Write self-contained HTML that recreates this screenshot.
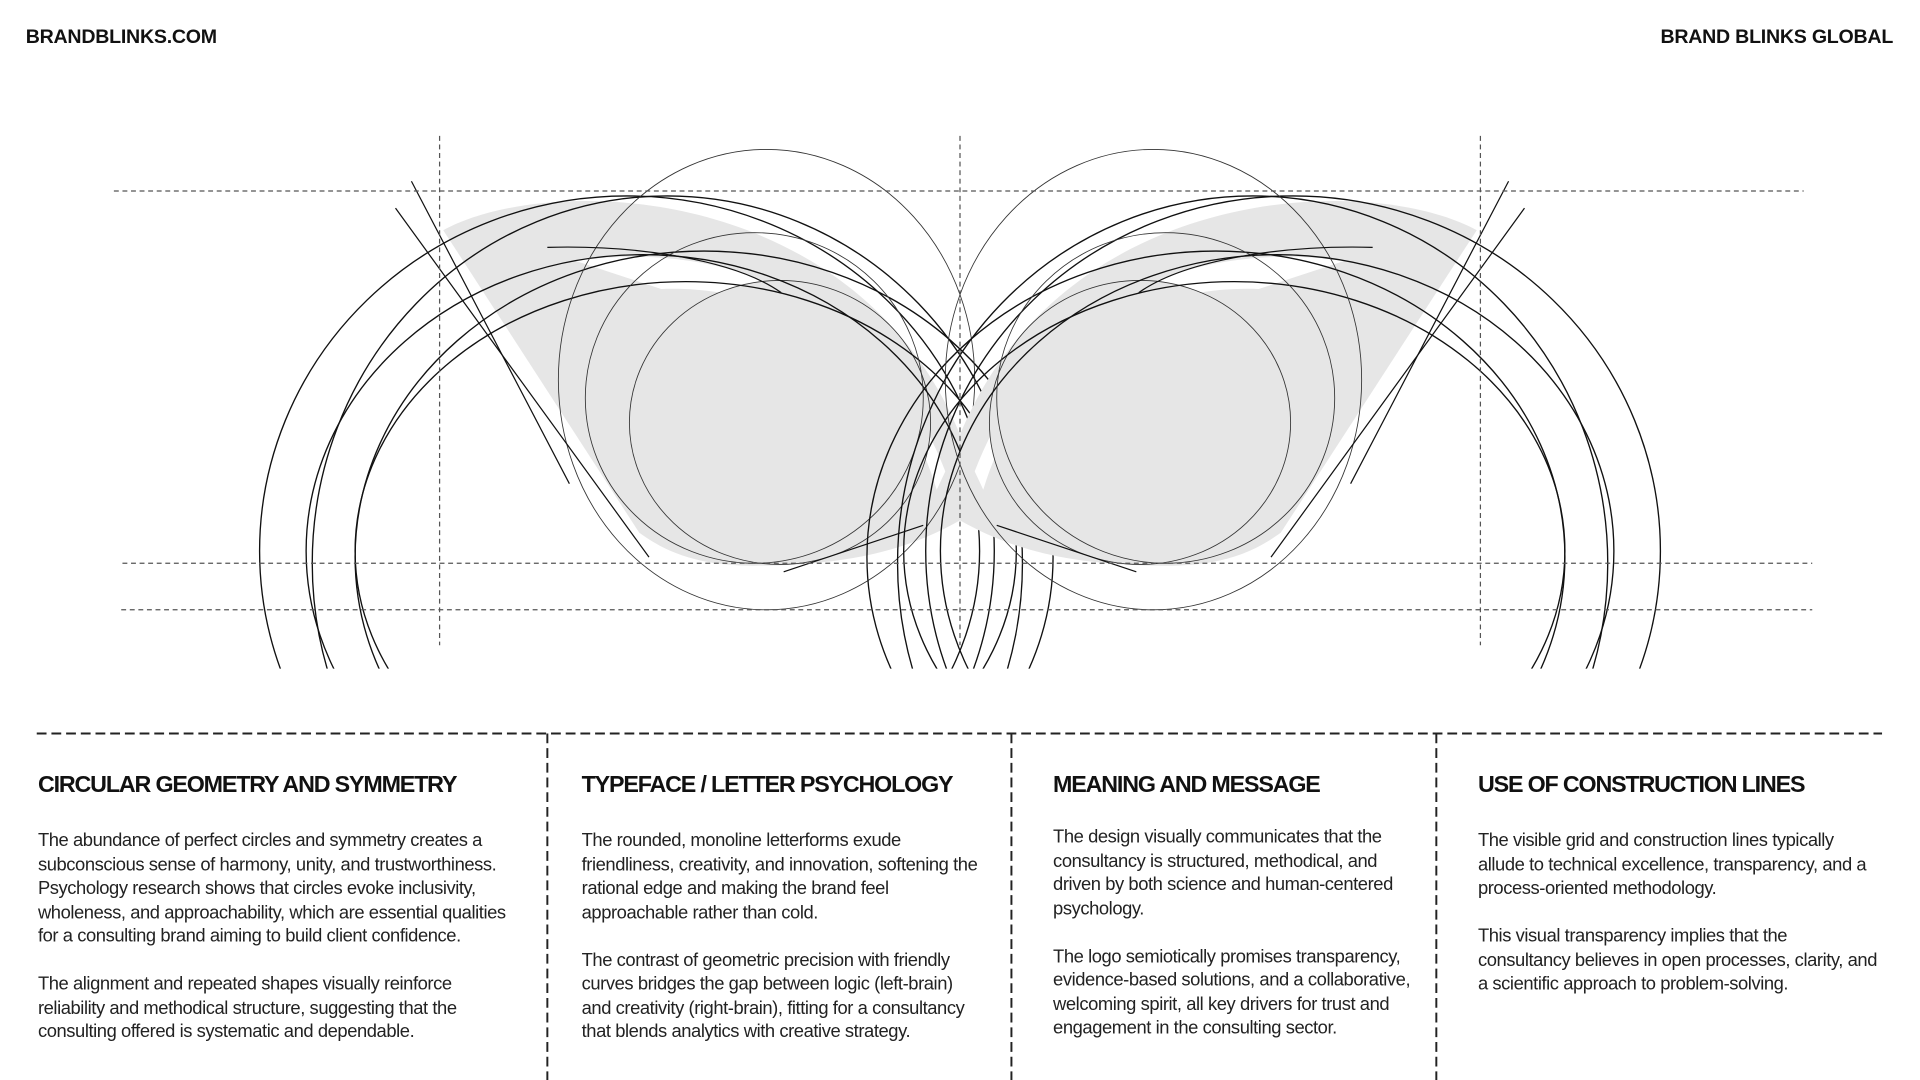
<!DOCTYPE html>
<html><head><meta charset="utf-8"><style>
html,body{margin:0;padding:0;background:#fff;width:1920px;height:1080px;overflow:hidden}
#w{position:absolute;left:0;top:0;width:1568px;height:882px;transform:scale(1.22449);transform-origin:0 0;font-family:"Liberation Sans",Arial,sans-serif;color:#111}
.hd{position:absolute;top:21px;font-size:16px;font-weight:bold;letter-spacing:-0.2px;line-height:20px}
.h{position:absolute;top:630px;font-size:19px;font-weight:bold;letter-spacing:-0.95px;line-height:24px;white-space:nowrap}
.b{position:absolute;font-size:15px;letter-spacing:-0.35px;line-height:19.5px;white-space:nowrap;color:#222}
.b p{margin:0 0 19.5px 0}
</style></head><body><div id="w">
<div class="hd" style="left:21px">BRANDBLINKS.COM</div>
<div class="hd" style="right:22px">BRAND BLINKS GLOBAL</div>

<svg width="1568" height="882" viewBox="0 0 1568 882" style="position:absolute;left:0;top:0">
<defs><clipPath id="cp"><rect x="0" y="0" width="1568" height="546"/></clipPath></defs>
<g id="half" clip-path="url(#cp)">
<path d="M362,188 C450,140 700,150 784,355 L784,425 C740,450 690,462 615,462 C565,462 540,448 522,435 L362,188 Z" fill="#e6e6e6"/>
<path d="M470,213 C600,195 720,250 772,385 L765,400 C735,300 650,232 540,236 Z" fill="#fff"/>
<ellipse cx="637" cy="345" rx="123" ry="116" fill="#e6e6e6" stroke="#333" stroke-width="0.7"/>
<g fill="none" stroke="#111" stroke-width="1.1">
<ellipse cx="512" cy="450" rx="300" ry="290"/>
<ellipse cx="545" cy="460" rx="290" ry="300"/>
<ellipse cx="525" cy="450" rx="275" ry="242"/>
<ellipse cx="560" cy="450" rx="270" ry="220"/>
<ellipse cx="575" cy="455" rx="285" ry="250"/>
</g>
<g fill="none" stroke="#333" stroke-width="0.7">
<ellipse cx="626" cy="310" rx="170" ry="188"/>
<ellipse cx="616" cy="325" rx="138" ry="135"/>
</g>
<g stroke="#111" stroke-width="1" fill="none">
<line x1="336" y1="148" x2="465" y2="395"/>
<line x1="323" y1="170" x2="530" y2="455"/>
<path d="M447,202 C520,200 600,212 638,239"/>
<line x1="640" y1="467" x2="754" y2="429"/>
</g>
</g>
<use href="#half" transform="translate(1568,0) scale(-1,1)"/>
<g stroke="#555" stroke-width="1" stroke-dasharray="4,3" fill="none">
<line x1="93" y1="156" x2="1473" y2="156"/>
<line x1="100" y1="460" x2="1480" y2="460"/>
<line x1="99" y1="498" x2="1480" y2="498"/>
<line x1="359" y1="111" x2="359" y2="527"/>
<line x1="784" y1="111" x2="784" y2="527"/>
<line x1="1209" y1="111" x2="1209" y2="527"/>
</g>
<g stroke="#222" stroke-width="1.6" stroke-dasharray="8,4" fill="none">
<line x1="30" y1="599" x2="1537" y2="599"/>
<line x1="447" y1="599" x2="447" y2="882"/>
<line x1="826" y1="599" x2="826" y2="882"/>
<line x1="1173" y1="599" x2="1173" y2="882"/>
</g>
</svg>

<div class="h" style="left:31px">CIRCULAR GEOMETRY AND SYMMETRY</div>
<div class="h" style="left:475px">TYPEFACE / LETTER PSYCHOLOGY</div>
<div class="h" style="left:860px">MEANING AND MESSAGE</div>
<div class="h" style="left:1207px">USE OF CONSTRUCTION LINES</div>

<div class="b" style="left:31px;top:677px">
<p>The abundance of perfect circles and symmetry creates a<br>subconscious sense of harmony, unity, and trustworthiness.<br>Psychology research shows that circles evoke inclusivity,<br>wholeness, and approachability, which are essential qualities<br>for a consulting brand aiming to build client confidence.</p>
<p>The alignment and repeated shapes visually reinforce<br>reliability and methodical structure, suggesting that the<br>consulting offered is systematic and dependable.</p>
</div>
<div class="b" style="left:475px;top:677px">
<p>The rounded, monoline letterforms exude<br>friendliness, creativity, and innovation, softening the<br>rational edge and making the brand feel<br>approachable rather than cold.</p>
<p>The contrast of geometric precision with friendly<br>curves bridges the gap between logic (left-brain)<br>and creativity (right-brain), fitting for a consultancy<br>that blends analytics with creative strategy.</p>
</div>
<div class="b" style="left:860px;top:674px">
<p>The design visually communicates that the<br>consultancy is structured, methodical, and<br>driven by both science and human-centered<br>psychology.</p>
<p>The logo semiotically promises transparency,<br>evidence-based solutions, and a collaborative,<br>welcoming spirit, all key drivers for trust and<br>engagement in the consulting sector.</p>
</div>
<div class="b" style="left:1207px;top:677px">
<p>The visible grid and construction lines typically<br>allude to technical excellence, transparency, and a<br>process-oriented methodology.</p>
<p>This visual transparency implies that the<br>consultancy believes in open processes, clarity, and<br>a scientific approach to problem-solving.</p>
</div>
</div></body></html>
